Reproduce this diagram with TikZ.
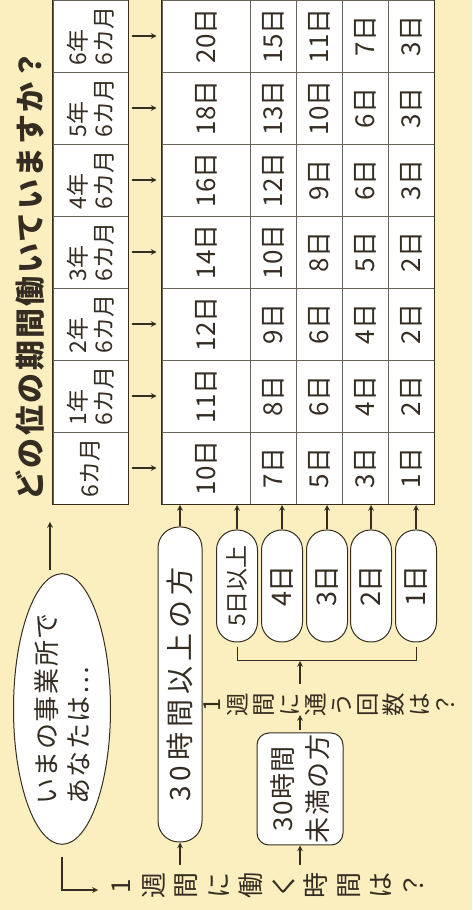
\documentclass[tikz,border=0pt]{standalone}
\usepackage{fontspec}
\setmainfont{Noto Sans CJK JP}
\usepackage{tikz}
\usetikzlibrary{shapes.geometric, arrows}
\definecolor{paper}{HTML}{FBEFBF}
\definecolor{ink}{HTML}{352C22}
\tikzstyle{cell} = [rectangle, draw=ink!75, line width=0.9pt, fill=white, minimum width=72pt, inner sep=0pt, text=ink, font=\fontsize{26}{26}\selectfont]
\tikzstyle{head} = [cell, minimum height=75pt, align=left, font=\fontsize{23}{26}\selectfont]
\tikzstyle{pill} = [rectangle, rounded corners=20pt, draw=ink, line width=1pt, fill=white, minimum width=112pt, minimum height=41pt, inner sep=0pt, text=ink]
\tikzstyle{vtext} = [align=center, inner sep=0pt, text=ink]
\tikzstyle{arrow} = [line width=1.5pt, draw=ink, ->, >=stealth]

\begin{document}
\begin{tikzpicture}[x=1pt, y=1pt, rotate=90, transform shape]
\fill[paper] (0,0) rectangle (910,-472);
\useasboundingbox (0,0) rectangle (910,-472);

\node (title) [anchor=west, text=ink, font=\bfseries\fontsize{30}{30}\selectfont\addfontfeatures{LetterSpace=8}] at (406,-30) {どの位の期間働いていますか？};

\foreach \h [count=\col from 0] in {{6カ月},{1年\\6カ月},{2年\\6カ月},{3年\\6カ月},{4年\\6カ月},{5年\\6カ月},{6年\\6カ月}}
  \node (h\col) [head] at (442+72*\col,-90.5) {\h};
\draw[ink, line width=1.3pt] (h0.north west) rectangle (h6.south east);

\foreach \row/\dd/\hh/\vals in {1/206/88/{10,11,12,14,16,18,20}, 2/273/46/{7,8,9,10,12,13,15}, 3/319/46/{5,6,6,8,9,10,11}, 4/365/46/{3,4,4,5,6,6,7}, 5/411/46/{1,2,2,2,3,3,3}}
  \foreach \v [count=\col from 0] in \vals
    \node (c\row-\col) [cell, minimum height=\hh pt] at (442+72*\col,-\dd) {\v 日};
\draw[ink, line width=1.3pt] (c1-0.north west) rectangle (c5-6.south east);

\foreach \col in {0,...,6}
  \draw[arrow, shorten <=4pt, shorten >=5pt] (h\col.south) -- (c1-\col.north);

\node (ell) [ellipse, draw=ink, line width=1pt, fill=white, minimum width=262pt, minimum height=97pt, inner sep=0pt, align=left, text=ink, font=\fontsize{26}{32}\selectfont\addfontfeatures{LetterSpace=6}] at (201,-62) {いまの事業所で\\あなたは…};

\node (p1) [pill, minimum width=315pt, minimum height=44pt, rounded corners=21pt, font=\fontsize{28}{28}\selectfont\addfontfeatures{LetterSpace=18}] at (225.5,-180) {30時間以上の方};
\foreach \t/\dd [count=\i from 2] in {{\fontsize{23}{23}\selectfont 5日以上}/237, 4日/282, 3日/327, 2日/371, 1日/416}
  \node (p\i) [pill, font=\fontsize{27}{27}\selectfont] at (324,-\dd) {\t};
\foreach \i/\dd in {1/180, 2/237, 3/282, 4/327, 5/371, 6/416} {
  \coordinate (t\i) at (406,-\dd);
  \draw[arrow, shorten >=1pt] (p\i.east) -- (t\i);
}

\node (q) [pill, rounded corners=12pt, minimum height=86pt, align=center, font=\fontsize{26}{35}\selectfont\addfontfeatures{LetterSpace=6}] at (121,-300) {30時間\\未満の方};

\node (ask1) [vtext, anchor=north, font=\fontsize{26}{32.5}\selectfont] at (24,-112) {1\\週\\間\\に\\働\\く\\時\\間\\は\\？};
\node (ask2) [vtext, anchor=north, font=\fontsize{23.5}{26}\selectfont] at (205,-204) {1\\週\\間\\に\\通\\う\\回\\数\\は\\？};

\coordinate (e1) at (20,-62);
\coordinate (e2) at (20,-98);
\draw[arrow, shorten <=12pt] (ell.west) -- (e1) -- (e2);
\coordinate (g1) at (340,-50);
\coordinate (g2) at (388,-50);
\draw[arrow] (g1) -- (g2);

\coordinate (a1) at (45,-180);
\coordinate (a2) at (45,-300);
\draw[arrow] (a1) -- (p1.west);
\draw[arrow] (a2) -- (q.west);
\coordinate (b1) at (195,-300);
\coordinate (b2) at (226,-300);
\coordinate (b3) at (249,-300);
\draw[arrow, shorten <=2pt] (q.east) -- (b1);
\draw[arrow] (b2) -- (b3);
\draw[ink, line width=1pt] (263,-237) -- (249,-237) -- (249,-416) -- (263,-416);
\end{tikzpicture}
\end{document}
